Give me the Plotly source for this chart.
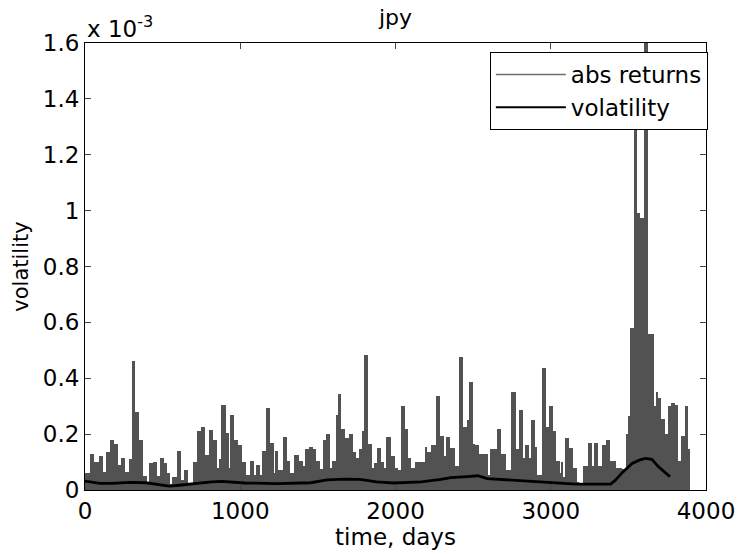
import numpy as np
import plotly.graph_objects as go

# abs returns: segment start day and value (x 1e-3)
seg_start = [0, 32, 58, 90, 115, 134, 160, 185, 215, 234, 259, 281, 300, 325, 351, 376, 397, 410, 436, 461,
             482, 510, 529, 550, 563, 595, 620, 637, 665, 695, 722, 750, 775, 796, 822, 847, 864, 879, 907, 928,
             937, 962, 988, 1013, 1036, 1061, 1087, 1100, 1125, 1138, 1163, 1189, 1216, 1225, 1246, 1274, 1301,
             1323, 1348, 1376, 1401, 1418, 1444, 1469, 1490, 1512, 1533, 1554, 1575, 1588, 1618, 1630, 1652, 1677,
             1698, 1724, 1745, 1762, 1788, 1800, 1826, 1847, 1860, 1881, 1906, 1923, 1940, 1970, 1996, 2017, 2038,
             2063, 2080, 2102, 2123, 2187, 2204, 2229, 2259, 2284, 2310, 2325, 2350, 2384, 2410, 2433, 2458, 2475,
             2497, 2509, 2539, 2594, 2611, 2654, 2681, 2713, 2745, 2773, 2794, 2824, 2836, 2862, 2870, 2896, 2913,
             2945, 2972, 2989, 3015, 3032, 3057, 3070, 3078, 3091, 3116, 3142, 3167, 3180, 3206, 3237, 3263, 3280,
             3305, 3329, 3354, 3380, 3422, 3456, 3482, 3496, 3511, 3535, 3556, 3573, 3599, 3624, 3662, 3675, 3688,
             3713, 3739, 3752, 3777, 3803, 3818, 3841, 3866, 3885]
abs_ret = [0.06, 0.13, 0.10, 0.12, 0.065, 0.135, 0.18, 0.165, 0.09, 0.115, 0.065, 0.11, 0.46, 0.28, 0.18, 0.05,
           0.02, 0.095, 0.10, 0.05, 0.115, 0.095, 0.06, 0.02, 0.045, 0.14, 0.035, 0.07, 0.02, 0.10, 0.21, 0.225,
           0.125, 0.215, 0.18, 0.08, 0.11, 0.305, 0.205, 0.08, 0.27, 0.18, 0.16, 0.10, 0.055, 0.105, 0.055, 0.09,
           0.055, 0.14, 0.295, 0.17, 0.06, 0.14, 0.07, 0.19, 0.105, 0.06, 0.125, 0.105, 0.085, 0.145, 0.155, 0.145,
           0.105, 0.075, 0.18, 0.20, 0.08, 0.105, 0.27, 0.345, 0.22, 0.185, 0.20, 0.135, 0.115, 0.145, 0.21, 0.485,
           0.165, 0.08, 0.095, 0.15, 0.10, 0.08, 0.19, 0.12, 0.08, 0.07, 0.30, 0.22, 0.115, 0.08, 0.10, 0.155, 0.135,
           0.16, 0.335, 0.195, 0.12, 0.19, 0.15, 0.085, 0.475, 0.225, 0.25, 0.385, 0.165, 0.16, 0.13, 0.055, 0.145,
           0.22, 0.13, 0.07, 0.35, 0.145, 0.285, 0.115, 0.16, 0.115, 0.25, 0.155, 0.055, 0.435, 0.225, 0.30, 0.21,
           0.105, 0.06, 0.10, 0.045, 0.185, 0.15, 0.08, 0.03, 0.02, 0.085, 0.17, 0.085, 0.17, 0.085, 0.16, 0.18,
           0.105, 0.08, 0.075, 0.20, 0.265, 0.58, 1.35, 0.99, 0.975, 1.7, 0.56, 0.30, 0.35, 0.33, 0.255, 0.20, 0.30,
           0.31, 0.305, 0.105, 0.195, 0.30, 0.145]
last_day = 3898

# volatility (x 1e-3)
vol_day = [0, 95, 180, 287, 393, 478, 541, 605, 713, 815, 880, 1030, 1242, 1452, 1561, 1669, 1771, 1879, 1987,
           2038, 2165, 2293, 2356, 2463, 2530, 2590, 2675, 2781, 2887, 2993, 3057, 3163, 3269, 3386, 3418, 3460,
           3524, 3570, 3609, 3651, 3694, 3736, 3768]
vol_val = [0.032, 0.024, 0.024, 0.027, 0.026, 0.018, 0.014, 0.017, 0.024, 0.029, 0.031, 0.025, 0.023, 0.026,
           0.036, 0.039, 0.038, 0.029, 0.025, 0.026, 0.029, 0.038, 0.044, 0.048, 0.051, 0.041, 0.038, 0.032, 0.029,
           0.025, 0.024, 0.021, 0.021, 0.021, 0.036, 0.062, 0.095, 0.107, 0.113, 0.11, 0.083, 0.062, 0.048]

x_ticks = [0, 1000, 2000, 3000, 4000]
y_ticks = [0, 0.2, 0.4, 0.6, 0.8, 1.0, 1.2, 1.4, 1.6]
y_ticktext = ["0", "0.2", "0.4", "0.6", "0.8", "1", "1.2", "1.4", "1.6"]

edges = seg_start + [last_day]
widths = np.diff(edges)

FONT = "DejaVu Sans, Liberation Sans, sans-serif"
fig = go.Figure()
fig.add_trace(go.Bar(x=seg_start, y=abs_ret, width=widths, offset=0,
                     marker=dict(color="#525252", line=dict(width=0)), showlegend=False))
fig.add_trace(go.Scatter(x=vol_day, y=vol_val, mode="lines", line=dict(color="black", width=2.8),
                         showlegend=False))
# legend entries
fig.add_trace(go.Scatter(x=[None], y=[None], mode="lines", name="abs returns",
                         line=dict(color="#6e6e6e", width=1.5)))
fig.add_trace(go.Scatter(x=[None], y=[None], mode="lines", name="volatility",
                         line=dict(color="black", width=2)))

fig.update_layout(
    width=747, height=554,
    margin=dict(l=85, r=34, t=43, b=64),
    paper_bgcolor="white", plot_bgcolor="white",
    font=dict(family=FONT, size=23, color="black"),
    title=dict(text="jpy", x=0.5, xref="paper", y=1 - 17 / 554, yref="container",
               xanchor="center", yanchor="middle", font=dict(size=22)),
    bargap=0,
    showlegend=True,
    legend=dict(x=1.003, y=0.98, xanchor="right", yanchor="top", bgcolor="white",
                bordercolor="black", borderwidth=1, font=dict(size=23),
                tracegroupgap=0, itemwidth=70),
)
fig.update_xaxes(range=[0, 4000], tickvals=x_ticks, ticks="inside", ticklen=6, mirror="allticks",
                 showline=True, linecolor="black", linewidth=1, showgrid=False, zeroline=False,
                 title=dict(text="time, days", standoff=0, font=dict(size=23)), tickfont=dict(size=23))
fig.update_yaxes(range=[0, 1.6], tickvals=y_ticks, ticktext=y_ticktext, ticks="inside", ticklen=6,
                 mirror="allticks", showline=True, linecolor="black", linewidth=1, showgrid=False,
                 zeroline=False, title=dict(text="volatility", standoff=8, font=dict(size=21)),
                 tickfont=dict(size=23))
fig.add_annotation(text="x 10<sup>-3</sup>", x=0, xref="paper", xanchor="left", y=1.036,
                   yref="paper", yanchor="middle", showarrow=False, font=dict(size=23))
fig.write_html("out.html")
